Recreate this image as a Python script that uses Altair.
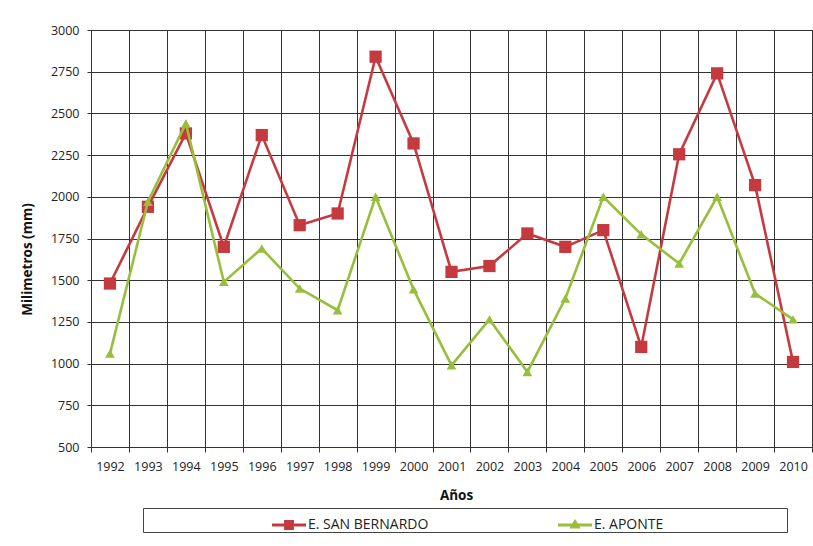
import altair as alt
import pandas as pd

years = ["1992", "1993", "1994", "1995", "1996", "1997", "1998", "1999", "2000", "2001",
         "2002", "2003", "2004", "2005", "2006", "2007", "2008", "2009", "2010"]
san_bernardo = [1480, 1940, 2380, 1700, 2370, 1830, 1900, 2840, 2320, 1550,
                1585, 1780, 1700, 1800, 1100, 2255, 2740, 2070, 1010]
aponte = [1060, 1970, 2440, 1490, 1690, 1450, 1320, 2000, 1445, 990,
          1265, 950, 1390, 2000, 1775, 1600, 2000, 1420, 1265]
series_names = ["E. SAN BERNARDO", "E. APONTE"]
series_colors = ["#C43A3F", "#98BE3C"]
y_ticks = [500, 750, 1000, 1250, 1500, 1750, 2000, 2250, 2500, 2750, 3000]

rows = []
for name, vals in zip(series_names, [san_bernardo, aponte]):
    for y, v in zip(years, vals):
        rows.append({"year": y, "series": name, "value": v})
df = pd.DataFrame(rows)

FONT = "Open Sans"
GRID = "#333333"

x_enc = alt.X(
    "year:O",
    bandPosition=0.5,
    sort=years,
    scale=alt.Scale(type="band", paddingInner=0, paddingOuter=0, domain=years),
    axis=alt.Axis(
        title="Años", tickBand="extent", grid=True, gridColor=GRID, gridWidth=1,
        domainColor=GRID, tickColor=GRID, tickSize=5, labelAngle=0,
        labelFont=FONT, labelFontSize=12.5, labelColor="#222222",
        labelBaseline="alphabetic", labelPadding=18,
        titleFont=FONT, titleFontSize=13.5, titleFontWeight="bold", titleColor="#111111",
        titleX=365, titleY=52, titleBaseline="alphabetic", titleAnchor="start", titleAlign="center",
    ),
)
y_enc = alt.Y(
    "value:Q",
    scale=alt.Scale(domain=[500, 3000], nice=False, zero=False),
    axis=alt.Axis(
        title="Milimetros (mm)", values=y_ticks, format="d", grid=True, gridColor=GRID,
        gridWidth=1, domainColor=GRID, tickColor=GRID, tickSize=4, labelPadding=8,
        labelFont=FONT, labelFontSize=12.5, labelColor="#222222",
        titleFont=FONT, titleFontSize=13.5, titleFontWeight="bold", titleColor="#111111",
        titleX=-64, titleY=229, titleAngle=270, titleAlign="center", titleBaseline="middle",
    ),
)

base = alt.Chart(df)
layers = []
shapes = ["square", "triangle-up"]
sizes = [150, 95]
for name, col, shp, sz in zip(series_names, series_colors, shapes, sizes):
    sub = base.transform_filter(alt.datum.series == name)
    layers.append(sub.mark_line(color=col, strokeWidth=2.6).encode(x=x_enc, y=y_enc))
    layers.append(sub.mark_point(shape=shp, filled=True, size=sz, color=col, opacity=1).encode(x=x_enc, y=y_enc))

legend_paths = [
    "M-1,-0.09 L-0.29,-0.09 L-0.29,-0.29 L0.29,-0.29 L0.29,-0.09 L1,-0.09 L1,0.09 L0.29,0.09 L0.29,0.29 L-0.29,0.29 L-0.29,0.09 L-1,0.09 Z",
    "M-1,-0.09 L-0.17,-0.09 L0,-0.36 L0.17,-0.09 L1,-0.09 L1,0.09 L0.26,0.09 L0.33,0.2 L-0.33,0.2 L-0.26,0.09 L-1,0.09 Z",
]
pad = "\u00a0" * 34 + "\u200b"
leg = alt.Legend(
    orient="none", legendX=52, legendY=478, direction="horizontal",
    title="\u00a0", titleOrient="left", titlePadding=129, titleFontSize=12.5,
    strokeColor="#444444", fillColor="white", padding=0,
    symbolSize=1156, symbolOpacity=1, symbolStrokeWidth=0, labelOffset=2, columnPadding=129,
    labelFont=FONT, labelFontSize=14, labelColor="#222222", labelLimit=500,
    labelExpr="datum.label == 'E. APONTE' ? datum.label + '" + pad + "' : datum.label",
)
legend_layer = base.mark_point(filled=True, opacity=0).encode(
    x=x_enc, y=y_enc,
    color=alt.Color("series:N", scale=alt.Scale(domain=series_names, range=series_colors), legend=leg),
    shape=alt.Shape("series:N", scale=alt.Scale(domain=series_names, range=legend_paths), legend=leg),
)
layers.append(legend_layer)

chart = alt.layer(*layers).properties(
    width=721, height=417,
    padding={"left": 91, "top": 30, "right": 1, "bottom": 99},
    autosize="none", background="white",
).configure_view(stroke=GRID, strokeWidth=1)

chart.save("out.html", embed_options={"renderer": "svg", "actions": False})
